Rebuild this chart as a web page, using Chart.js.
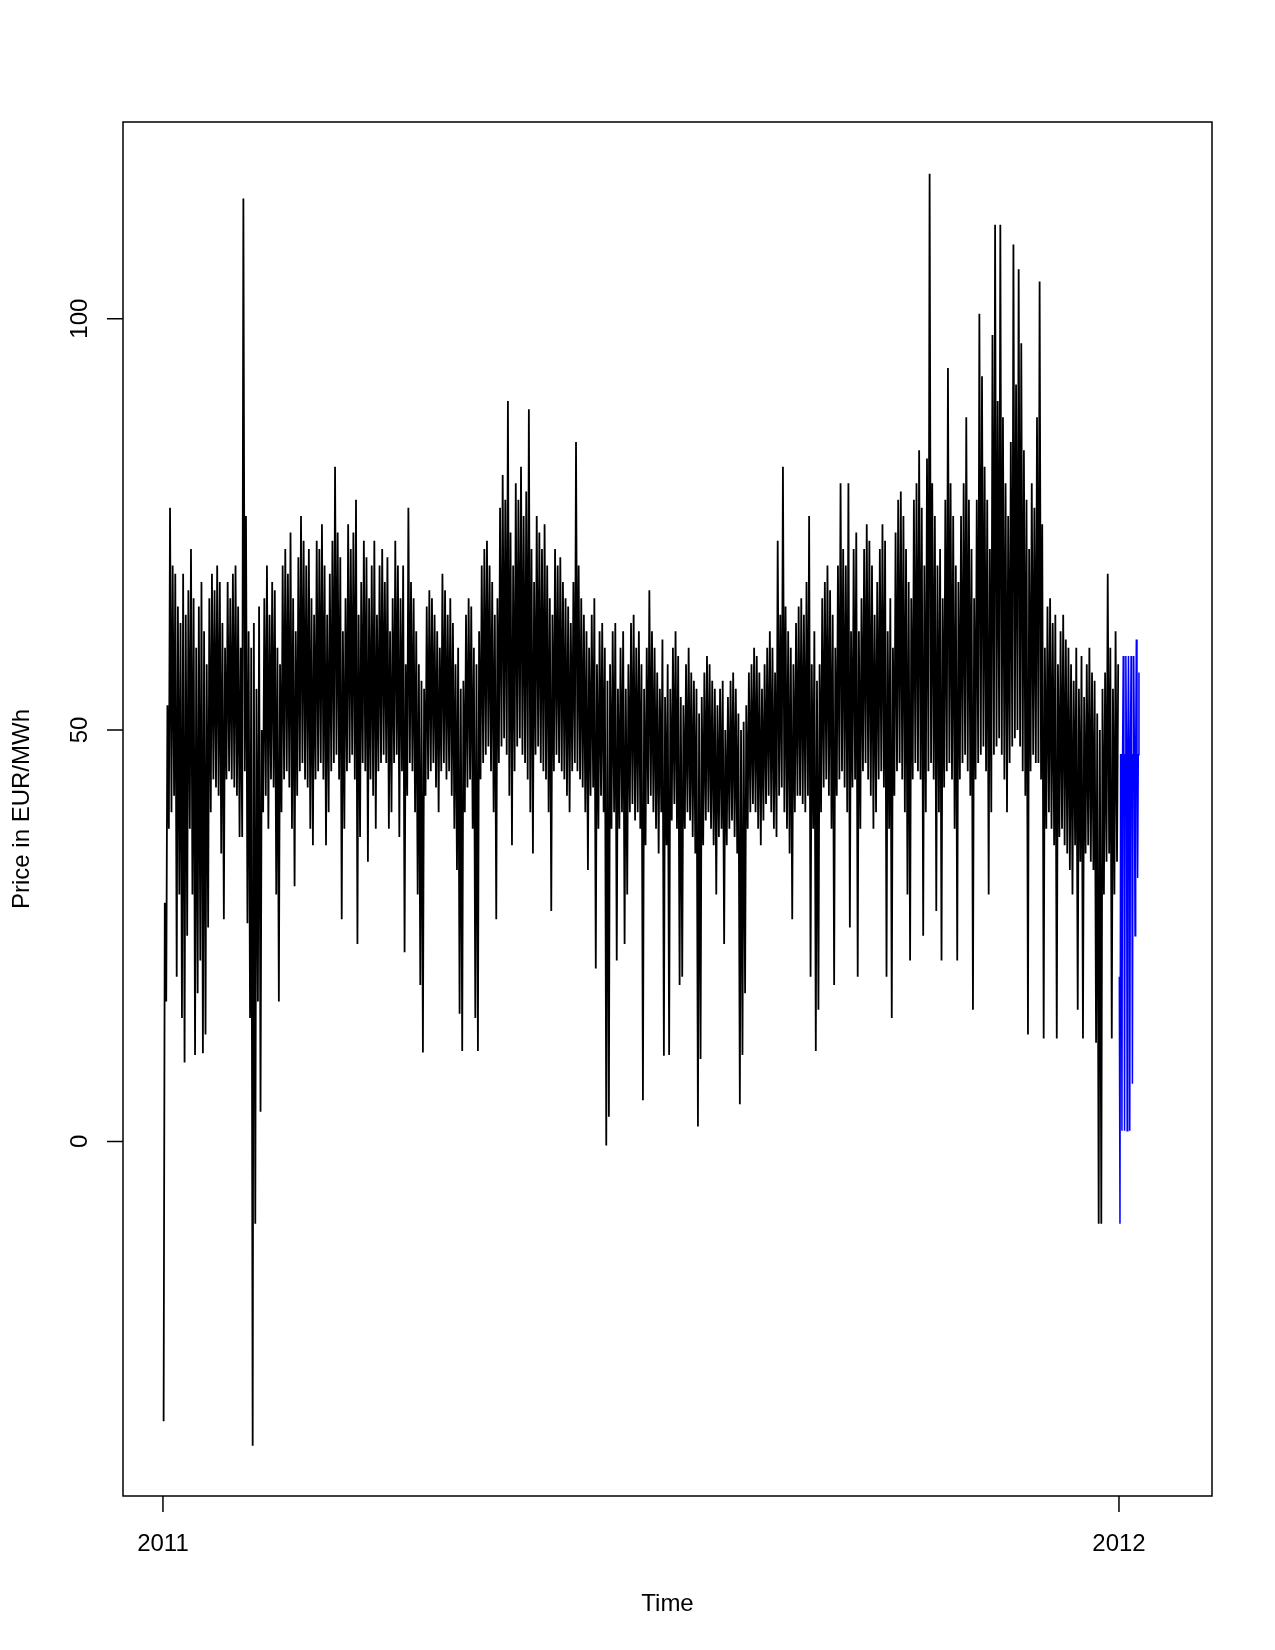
<!DOCTYPE html>
<html>
<head>
<meta charset="utf-8">
<title>Price in EUR/MWh</title>
<script src="https://cdn.jsdelivr.net/npm/chart.js@4.4.1/dist/chart.umd.min.js"></script>
<style>
  html, body { margin: 0; padding: 0; background: #fff; }
  canvas { display: block; }
</style>
</head>
<body>
<canvas id="priceChart" width="1275" height="1650"></canvas>
<script>
// daily lowest hourly price in 2011, one line per month (Jan..Dec)
const dailyLow = [
  -34, 17, 38, 40, 42, 20, 30, 15, 9.6, 25, 38, 30, 10.5, 18, 22, 10.7, 13, 26, 40, 44, 43, 42, 35, 27, 44, 45, 44, 43, 42, 37, 37,
  45, 26.5, 15, -37, -10, 17, 3.6, 40, 42, 38, 44, 43, 30, 17, 40, 44, 45, 43, 38, 31, 42, 45, 46, 44, 43, 38, 36, 44,
  45, 46, 44, 36, 40, 45, 46, 47, 44, 27, 38, 45, 46, 47, 44, 24, 37, 46, 45, 34, 44, 42, 38, 45, 46, 47, 46, 38, 40, 46, 47,
  37, 45, 23, 42, 46, 45, 40, 30, 19, 10.8, 42, 44, 45, 46, 43, 40, 45, 46, 44, 45, 42, 38, 33, 15.5, 11, 40, 43, 44, 38, 15,
  11, 44, 46, 47, 48, 45, 40, 27, 46, 48, 49, 47, 42, 36, 45, 48, 49, 47, 46, 44, 40, 35, 47, 48, 46, 45, 44, 40, 28, 45, 47,
  46, 45, 44, 42, 40, 45, 46, 45, 44, 43, 40, 33, 42, 43, 21, 38, 42, 40, -0.5, 3, 38, 40, 22, 38, 40, 24, 30, 40, 41, 39,
  40, 38, 5, 36, 41, 42, 40, 38, 35, 40, 10.4, 36, 10.5, 39, 41, 38, 19, 20, 38, 40, 39, 37, 35, 1.8, 10, 36, 39, 40, 38, 36, 30,
  37, 38, 24, 36, 38, 39, 37, 35, 4.5, 10.5, 18, 38, 40, 41, 40, 38, 36, 39, 41, 42, 40, 38, 37, 42, 43, 40, 38, 35, 27, 40, 42,
  42, 41, 40, 42, 20, 38, 11, 16, 40, 43, 44, 42, 38, 19, 42, 44, 45, 43, 40, 26, 43, 44, 20, 38, 45, 46, 44, 42, 38, 40,
  44, 45, 43, 20, 38, 15, 42, 45, 46, 44, 40, 30, 22, 44, 46, 45, 44, 25, 40, 45, 46, 44, 28, 40, 22, 43, 45, 46, 44, 38, 22,
  44, 46, 47, 45, 42, 16, 44, 46, 47, 48, 45, 30, 40, 47, 48, 49, 47, 44, 40, 46, 48, 49, 50, 48, 45, 42, 13, 45, 47, 46,
  46, 44, 12.5, 38, 40, 38, 36, 12.5, 37, 38, 36, 35, 33, 30, 36, 16, 34, 12.5, 35, 36, 34, 33, 12, -10, -10, 30, 34, 35, 12.5, 30, 34
];

// daily highest hourly price in 2011
const dailyHigh = [
  29, 53, 77, 70, 69, 65, 63, 69, 64, 67, 72, 66, 60, 65, 68, 62, 58, 66, 69, 67, 70, 68, 63, 60, 68, 66, 69, 70, 65, 60, 114.6,
  76, 62, 60, 63, 55, 65, 50, 66, 70, 64, 68, 67, 60, 58, 70, 72, 69, 74, 66, 62, 71, 76, 73, 70, 72, 66, 64, 73,
  72, 75, 70, 64, 69, 73, 82, 74, 71, 62, 66, 75, 72, 74, 78, 64, 68, 73, 71, 66, 70, 73, 64, 70, 72, 68, 71, 62, 66, 73, 70,
  66, 70, 58, 77, 68, 66, 62, 58, 56, 55, 65, 67, 66, 64, 62, 60, 69, 67, 64, 66, 63, 58, 60, 55, 56, 64, 66, 65, 60, 58,
  62, 70, 72, 73, 70, 68, 64, 66, 77, 81, 78, 90, 74, 70, 80, 78, 82, 76, 79, 89, 72, 68, 76, 74, 72, 75, 70, 66, 64, 72, 70,
  71, 68, 66, 65, 63, 68, 85, 70, 66, 64, 62, 60, 64, 66, 58, 62, 63, 60, 56, 58, 62, 63, 55, 60, 62, 55, 58, 63, 64, 60,
  62, 58, 55, 60, 67, 62, 60, 57, 55, 61, 54, 58, 55, 60, 62, 59, 54, 53, 58, 60, 57, 56, 55, 52, 54, 57, 59, 58, 56, 55, 53,
  55, 56, 50, 54, 56, 57, 55, 52, 50, 51, 53, 57, 58, 60, 59, 57, 55, 58, 60, 62, 60, 57, 73, 64, 82, 65, 62, 60, 58, 63, 65,
  66, 64, 68, 76, 58, 62, 56, 58, 66, 68, 70, 67, 64, 60, 70, 80, 72, 70, 80, 62, 72, 74, 62, 66, 72, 75, 73, 70, 64, 68,
  72, 75, 73, 62, 66, 60, 74, 78, 79, 76, 72, 68, 66, 78, 80, 84, 77, 70, 83, 117.6, 80, 76, 70, 72, 66, 78, 94, 80, 76, 70, 68,
  76, 80, 88, 78, 72, 66, 78, 100.6, 93, 82, 78, 72, 98, 111.4, 90, 111.4, 88, 80, 76, 85, 109, 92, 106, 97, 84, 78, 72, 80, 77, 88,
  104.5, 75, 60, 65, 66, 63, 64, 58, 62, 64, 61, 60, 58, 56, 60, 55, 59, 54, 58, 60, 57, 56, 52, 50, 55, 57, 69, 60, 55, 62, 58
];

// forecast for the first week of 2012, four readings per day
const forecastPrice = [
  20, -10, 47, 47,
  1.3, 47, 59, 47,
  1.3, 47, 59, 47,
  1.3, 47, 59, 47,
  1.3, 47, 59, 47,
  7, 47, 59, 47,
  25, 47, 61, 47,
  32, 47, 57
];

const xTicks = [2011, 2012];
const xTickLabels = ['2011', '2012'];
const yTicks = [0, 50, 100];
const yTickLabels = ['0', '50', '100'];

const DAYS = 365;
const histPoints = [];
dailyLow.forEach((lo, d) => {
  histPoints.push({ x: 2011 + (d + 0.25) / DAYS, y: lo });
  histPoints.push({ x: 2011 + (d + 0.7) / DAYS, y: dailyHigh[d] });
});
const fcPoints = forecastPrice.map((v, i) => ({ x: 2012 + (i + 0.5) / 4 / DAYS, y: v }));

// R style frame, ticks and labels
const rAxes = {
  id: 'rAxes',
  afterDraw(chart) {
    const { ctx, chartArea: a, scales } = chart;
    const sx = scales.x, sy = scales.y;
    ctx.save();
    ctx.strokeStyle = '#000';
    ctx.fillStyle = '#000';
    ctx.lineWidth = 1.5;
    ctx.strokeRect(a.left, a.top, a.right - a.left, a.bottom - a.top);

    ctx.beginPath();
    xTicks.forEach(v => {
      const px = sx.getPixelForValue(v);
      ctx.moveTo(px, a.bottom);
      ctx.lineTo(px, a.bottom + 16);
    });
    yTicks.forEach(v => {
      const py = sy.getPixelForValue(v);
      ctx.moveTo(a.left, py);
      ctx.lineTo(a.left - 16, py);
    });
    ctx.stroke();

    ctx.font = '24px "Liberation Sans", Arial, sans-serif';
    ctx.textAlign = 'center';
    ctx.textBaseline = 'alphabetic';
    xTicks.forEach((v, i) => ctx.fillText(xTickLabels[i], sx.getPixelForValue(v), a.bottom + 55));
    ctx.fillText('Time', (a.left + a.right) / 2, a.bottom + 115);

    yTicks.forEach((v, i) => {
      ctx.save();
      ctx.translate(a.left - 36, sy.getPixelForValue(v));
      ctx.rotate(-Math.PI / 2);
      ctx.fillText(yTickLabels[i], 0, 0);
      ctx.restore();
    });
    ctx.save();
    ctx.translate(a.left - 94.5, (a.top + a.bottom) / 2);
    ctx.rotate(-Math.PI / 2);
    ctx.fillText('Price in EUR/MWh', 0, 0);
    ctx.restore();
    ctx.restore();
  }
};

new Chart(document.getElementById('priceChart'), {
  type: 'line',
  data: {
    datasets: [
      { label: 'price', data: histPoints, borderColor: '#000000', borderWidth: 1.8, pointRadius: 0, tension: 0, fill: false },
      { label: 'forecast', data: fcPoints, borderColor: '#0000ff', borderWidth: 1.5, pointRadius: 0, tension: 0, fill: false }
    ]
  },
  options: {
    responsive: false,
    animation: false,
    devicePixelRatio: 1,
    layout: { padding: { left: 123, top: 122, right: 63, bottom: 154 } },
    scales: {
      x: { type: 'linear', min: 2010.9582, max: 2012.0973, display: false },
      y: { type: 'linear', min: -43.1, max: 123.9, display: false }
    },
    plugins: {
      legend: { display: false },
      tooltip: { enabled: false }
    }
  },
  plugins: [rAxes]
});
</script>
</body>
</html>
